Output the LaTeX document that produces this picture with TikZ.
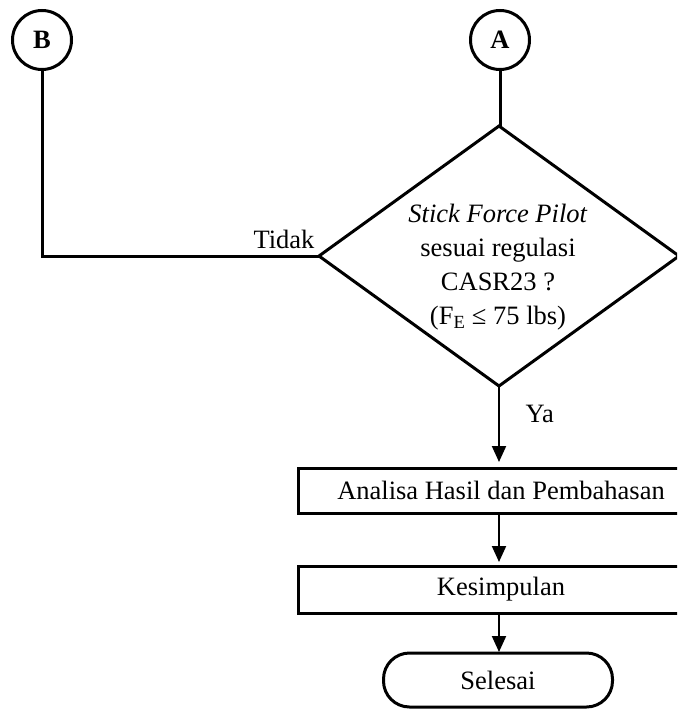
\documentclass[tikz,border=0pt]{standalone}
\usepackage{fontspec}
\setmainfont{Liberation Serif}
\usetikzlibrary{shapes.geometric,arrows.meta}
\begin{document}
\begin{tikzpicture}[x=1pt,y=-1pt,
  txt/.style={font=\fontsize{26.5}{34}\selectfont},
  bold line/.style={line width=3pt},
  conn/.style={line width=2pt,-{Triangle[length=16pt,width=14pt]}},
  circ/.style={circle,draw,line width=3pt,minimum size=59pt,inner sep=0pt,outer sep=0pt,font=\fontsize{26.5}{33}\selectfont\bfseries},
  decision/.style={diamond,draw,line width=3pt,minimum width=360pt,minimum height=260pt,inner sep=0pt,outer sep=0pt},
  process/.style={rectangle,draw,line width=3pt,minimum width=406pt,inner sep=0pt,outer sep=0pt,txt},
  terminal/.style={rectangle,draw,line width=3pt,rounded corners=26pt,minimum width=229pt,minimum height=54pt,inner sep=0pt,outer sep=0pt,txt}
]
\useasboundingbox (0,0) rectangle (677,709);
\fill[white] (0,0) rectangle (677,709);
\clip (0,0) rectangle (677,709);

\node[circ] (B) at (42,40) {B};
\node[circ] (A) at (500,40) {A};
\node[decision] (D) at (499,256) {};
\node[txt,align=center,inner sep=0pt] (Dtext) at (498,267.5) {\textit{Stick Force Pilot}\\sesuai regulasi\\CASR23 ?\\(F\textsubscript{E} ≤ 75 lbs)};
\node[process,minimum height=45pt] (P1) at (501,490.5) {Analisa Hasil dan Pembahasan};
\node[process,minimum height=47pt] (P2) at (501,589.5) {Kesimpulan};
\node[terminal] (T) at (498,680) {Selesai};

\coordinate (corner) at (B.south |- D.west);
\draw[bold line] (A.south) -- (A.south |- D.north);
\draw[bold line] (B.south) -- (corner) -- (D.west);
\node[txt,anchor=base west] (tidak) at (250,248) {Tidak};

\draw[conn,shorten >=6pt] (D.south) -- (D.south |- P1.north);
\node[txt,anchor=base west] (ya) at (522,422) {Ya};
\draw[conn,shorten >=4pt] (P1.south -| D.south) -- (P2.north -| D.south);
\draw[conn,shorten >=1pt] (P2.south -| D.south) -- (T.north -| D.south);
\end{tikzpicture}
\end{document}
